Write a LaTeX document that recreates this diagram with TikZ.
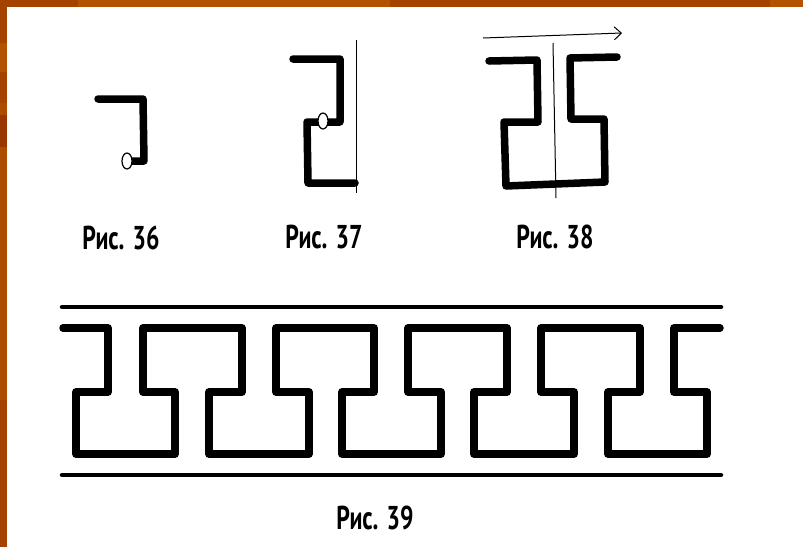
\documentclass[tikz,border=0pt]{standalone}
\usepackage{fontspec}
\newfontfamily\capfont[FakeStretch=0.72]{PT Sans Bold}
\usetikzlibrary{arrows.meta,shapes.geometric}
\definecolor{framebrown}{HTML}{AD4C00}
\definecolor{framelight}{HTML}{B35200}
\definecolor{framedark}{HTML}{A44300}
\definecolor{framedeep}{HTML}{993700}
\tikzset{
  wall/.style={line width=7.5pt, line join=round, line cap=round},
  rail/.style={line width=4.5pt, line cap=round},
  axisline/.style={line width=1pt},
  hole/.style={ellipse, draw=black, line width=1.2pt, fill=white, inner sep=0pt, minimum width=10pt, minimum height=16pt},
  caption/.style={inner sep=0pt, font={\capfont\fontsize{33}{33}\selectfont}}
}

\begin{document}
\begin{tikzpicture}[x=1pt, y=-1pt]
    \useasboundingbox (0,0) rectangle (803,547);

    % Frame of the slide
    \fill[framebrown] (0,0) rectangle (803,547);
    \fill[framedark] (0,0) rectangle (7,43);
    \fill[framelight] (0,43) rectangle (7,72);
    \fill[framedark] (0,72) rectangle (7,103);
    \fill[framedeep] (0,115) rectangle (7,147);
    \fill[framedark] (0,400) rectangle (7,547);
    \fill[framedark] (0,0) rectangle (78,7);
    \fill[framelight] (78,0) rectangle (390,7);
    \fill[framedark] (390,0) rectangle (770,7);
    \fill[framelight] (770,0) rectangle (803,7);
    \fill[white] (7,7) rectangle (803,547);

    % Fig. 36
    \draw[wall] (98,99) -- (143,99) -- (144,161) -- (127,161);
    \node[hole] (hole36) at (127,161) {};
    \node[caption] (cap36) at (121,238) {Рис. 36};

    % Fig. 37
    \draw[axisline] (356,40) -- (356,193);
    \draw[wall] (293,59) -- (340,59) -- (340,122) -- (307,122) -- (308,183) -- (355,183);
    \node[hole] (hole37) at (323,121) {};
    \node[caption] (cap37) at (324,237) {Рис. 37};

    % Fig. 38
    \draw[axisline, -{Straight Barb[length=7pt, width=13pt]}] (483,38) -- (622,33);
    \draw[axisline] (553,43) -- (556,198);
    \draw[wall] (489,61) -- (537,60) -- (538,122) -- (504,122) -- (506,186) -- (605,182)
        -- (604,119) -- (571,119) -- (570,58) -- (617,57);
    \node[caption] (cap38) at (555,237) {Рис. 38};

    % Fig. 39, rails
    \draw[rail] (62,307) -- (721,307);
    \draw[rail] (62,475) -- (721,475);

    % Fig. 39, meander
    \draw[wall] (63,328) -- (108,328) -- (108,392) -- (76,392) -- (76,454) -- (175,454) -- (175,392) -- (143,392)
        -- (143,328) -- (242,328) -- (242,392) -- (209,392) -- (209,454) -- (309,454) -- (309,392) -- (276,392)
        -- (276,328) -- (374,328) -- (374,392) -- (342,392) -- (342,454) -- (441,454) -- (441,392) -- (408,392)
        -- (408,328) -- (507,328) -- (507,392) -- (474,392) -- (474,454) -- (574,454) -- (574,392) -- (541,392)
        -- (541,328) -- (640,328) -- (640,392) -- (608,392) -- (608,454) -- (707,454) -- (707,392) -- (674,392)
        -- (674,328) -- (720,328);
    \node[caption] (cap39) at (375,518) {Рис. 39};

\end{tikzpicture}
\end{document}
